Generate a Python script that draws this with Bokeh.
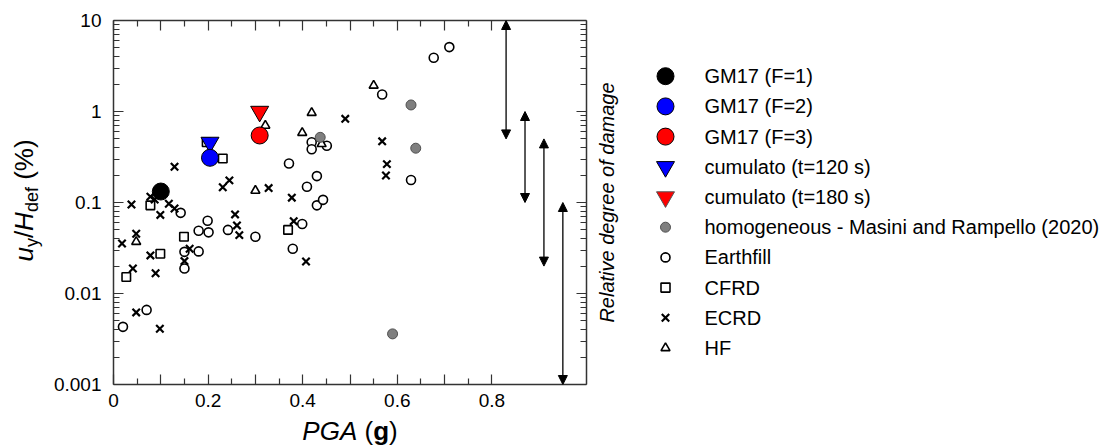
import math
from bokeh.plotting import figure
from bokeh.models import (Range1d, FixedTicker, LinearAxis, LogAxis, Arrow,
                          NormalHead, ColumnDataSource)
from bokeh.layouts import row, column
from bokeh.core.properties import value
from bokeh.embed import file_html
from bokeh.resources import INLINE

FONT = "Liberation Sans"
AX = "#333333"

# ---------------- data ----------------
earth_pga = [0.020, 0.070, 0.142, 0.150, 0.150, 0.180, 0.180, 0.199, 0.201, 0.242,
             0.300, 0.371, 0.379, 0.399, 0.409, 0.419, 0.419, 0.430, 0.430, 0.443,
             0.451, 0.568, 0.629, 0.677, 0.710]
earth_u = [0.0043, 0.0066, 0.077, 0.0287, 0.0188, 0.049, 0.029, 0.063, 0.047, 0.050,
           0.042, 0.268, 0.031, 0.058, 0.149, 0.46, 0.385, 0.195, 0.093, 0.107,
           0.42, 1.54, 0.177, 3.89, 5.1]

cfrd_pga = [0.027, 0.078, 0.099, 0.149, 0.197, 0.231, 0.369]
cfrd_u = [0.0152, 0.093, 0.0273, 0.042, 0.46, 0.305, 0.050]

ecrd_pga = [0.018, 0.038, 0.041, 0.048, 0.048, 0.078, 0.087, 0.078, 0.089, 0.098,
            0.099, 0.117, 0.129, 0.129, 0.150, 0.161, 0.231, 0.245, 0.257, 0.261,
            0.266, 0.328, 0.377, 0.381, 0.407, 0.490, 0.568, 0.578, 0.576]
ecrd_u = [0.0354, 0.095, 0.0188, 0.0453, 0.0062, 0.116, 0.108, 0.0262, 0.0167, 0.0041,
          0.073, 0.097, 0.086, 0.247, 0.0227, 0.031, 0.147, 0.175, 0.074, 0.056,
          0.0438, 0.144, 0.113, 0.0624, 0.0225, 0.83, 0.47, 0.264, 0.198]

hf_pga = [0.048, 0.300, 0.321, 0.399, 0.419, 0.440, 0.550]
hf_u = [0.037, 0.135, 0.70, 0.583, 0.967, 0.44, 1.93]

homo_pga = [0.437, 0.590, 0.629, 0.639]
homo_u = [0.52, 0.0036, 1.18, 0.395]

gm17_pga = [0.100, 0.204, 0.309]
gm17_u = [0.132, 0.31, 0.545]
gm17_colors = ["black", "blue", "red"]

cum_pga = [0.204, 0.309]
cum_u = [0.457, 1.0]
cum_colors = ["blue", "red"]

arrow_pga = [0.830, 0.870, 0.910, 0.950]
arrow_low = [0.5, 0.1, 0.02, 0.001]
arrow_high = [10.0, 1.0, 0.5, 0.1]

x_ticks = [0.0, 0.1, 0.2, 0.3, 0.4, 0.5, 0.6, 0.7, 0.8]
x_tick_labels = ["0", "", "0.2", "", "0.4", "", "0.6", "", "0.8"]
x_minor = [0.05, 0.15, 0.25, 0.35, 0.45, 0.55, 0.65, 0.75]
y_ticks = [0.001, 0.01, 0.1, 1.0, 10.0]
y_tick_labels = ["0.001", "0.01", "0.1", "1", "10"]
y_minor = [k * d for d in (0.001, 0.01, 0.1, 1.0) for k in range(2, 10)]

legend_labels = ["GM17 (F=1)", "GM17 (F=2)", "GM17 (F=3)", "cumulato (t=120 s)",
                 "cumulato (t=180 s)", "homogeneous - Masini and Rampello (2020)",
                 "Earthfill", "CFRD", "ECRD", "HF"]
legend_markers = ["circle", "circle", "circle", "inverted_triangle", "inverted_triangle",
                  "circle", "circle", "square", "x", "triangle"]
legend_fill = ["black", "blue", "red", "blue", "red", "#7f7f7f", "white", "white", "black", "white"]
legend_line = ["black", "black", "black", "black", "#555555", "#505050", "black", "black", "black", "black"]
legend_size = [17, 17, 17, 18, 18, 10, 9, 9, 10.5, 9]
legend_lw = [1, 1, 1, 1, 1, 1, 1.6, 1.6, 2.2, 1.6]

# ---------------- geometry ----------------
YL_W = 45                        # y-title strip
BL, BR, BT, BB = 68, 8, 20, 32   # borders of main plot
FW, FH = 473, 364                # frame size
P_W, P_H = BL + FW + BR, BT + FH + BB
XL_H = 29                        # x-title strip
TOT_H = P_H + XL_H
LEG_W = 520

# ---------------- main figure ----------------
p = figure(width=P_W, height=P_H, x_range=Range1d(0, 1),
           y_range=Range1d(0.001, 10), y_axis_type="log",
           output_backend="svg", toolbar_location=None,
           min_border_left=BL, min_border_right=BR, min_border_top=BT,
           min_border_bottom=BB)
p.xgrid.visible = False
p.ygrid.visible = False
p.outline_line_color = None

xt = FixedTicker(ticks=x_ticks, minor_ticks=x_minor)
yt = FixedTicker(ticks=y_ticks, minor_ticks=y_minor)


def style(ax):
    ax.axis_line_color = AX
    ax.axis_line_width = 1.5
    ax.major_tick_line_color = AX
    ax.minor_tick_line_color = AX
    ax.major_tick_line_width = 1.2
    ax.minor_tick_line_width = 1.2
    ax.major_tick_in = 10
    ax.major_tick_out = 0
    ax.minor_tick_in = 6
    ax.minor_tick_out = 0
    ax.major_label_text_font = FONT
    ax.major_label_text_font_size = "19px"
    ax.major_label_text_color = "black"


p.xaxis.ticker = xt
p.xaxis.major_label_overrides = dict(zip(x_ticks, x_tick_labels))
p.yaxis.ticker = yt
p.yaxis.major_label_overrides = dict(zip(y_ticks, y_tick_labels))
style(p.xaxis[0])
style(p.yaxis[0])
p.xaxis.major_label_standoff = 9
p.yaxis.major_label_standoff = 12

top = LinearAxis(ticker=xt, major_label_overrides={t: "" for t in x_ticks})
right = LogAxis(ticker=yt, major_label_overrides={t: "" for t in y_ticks})
for ax in (top, right):
    style(ax)
    ax.major_label_text_font_size = "0px"
    ax.major_label_standoff = 0
p.add_layout(top, "above")
p.add_layout(right, "right")

# arrows (relative degree of damage)
asrc = ColumnDataSource(dict(x=arrow_pga, lo=arrow_low, hi=arrow_high))
p.add_layout(Arrow(x_start="x", y_start="lo", x_end="x", y_end="hi", source=asrc,
                   line_color="black", line_width=1.3,
                   start=NormalHead(size=9, fill_color="black", line_color="black"),
                   end=NormalHead(size=9, fill_color="black", line_color="black")))

p.scatter(earth_pga, earth_u, marker="circle", size=9, fill_color="white",
          line_color="black", line_width=1.6)
p.scatter(cfrd_pga, cfrd_u, marker="square", size=8.5, fill_color="white",
          line_color="black", line_width=1.6)
p.scatter(ecrd_pga, ecrd_u, marker="x", size=10.5, line_color="black", line_width=2.2)
p.scatter(hf_pga, hf_u, marker="triangle", size=9, fill_color="white",
          line_color="black", line_width=1.6)
p.scatter(homo_pga, homo_u, marker="circle", size=10, fill_color="#7f7f7f",
          line_color="#505050", line_width=1)
p.scatter(cum_pga, cum_u, marker="inverted_triangle", size=18, fill_color=cum_colors,
          line_color="black", line_width=1)
p.scatter(gm17_pga, gm17_u, marker="circle", size=17, fill_color=gm17_colors,
          line_color="black", line_width=1)

# ---------------- axis titles (styled pieces) ----------------
W = {"u": 0.556, "y": 0.5, "/": 0.278, "H": 0.722, "d": 0.556, "e": 0.556, "f": 0.278,
     " ": 0.278, "(": 0.333, "%": 0.889, ")": 0.333, "P": 0.667, "G": 0.778, "A": 0.667,
     "g": 0.611}
MID = 0.35   # baseline lies this fraction of the font size below the 'middle' anchor


def tw(s, fs):
    return sum(W[c] for c in s) * fs


def strip(w, h, bl=0, br=0):
    f = figure(width=w, height=h, x_range=Range1d(0, w - bl - br), y_range=Range1d(h, 0),
               output_backend="svg", toolbar_location=None, min_border=0,
               min_border_left=bl, min_border_right=br,
               x_axis_location=None, y_axis_location=None, title=None)
    f.grid.visible = False
    f.outline_line_color = None
    return f


BIG, SUB = 26, 18
ylab = strip(YL_W, TOT_H)
BASE_Y = 33      # baseline of the rotated y title (strip coordinates)
# (text, font size, style, baseline shift, gap before)
ypieces = [("u", BIG, "italic", 0, 0), ("y", SUB, "normal", 5, 0), ("/", BIG, "normal", 0, 0),
           ("H", BIG, "italic", 0, 0), ("def", SUB, "normal", 5, 0),
           ("(%)", BIG, "normal", 0, tw(" ", BIG))]
total = sum(tw(s, fs) + g for s, fs, _, _, g in ypieces)
pos = 200 + total / 2          # bottom end of the rotated title
for s, fs, st, dx, g in ypieces:
    pos -= g
    ylab.text(x=[BASE_Y + dx - MID * fs], y=[pos], text=[s], angle=math.pi / 2,
              text_font=value(FONT), text_font_size=f"{fs}px", text_font_style=st,
              text_align="left", text_baseline="middle", text_color="black")
    pos -= tw(s, fs)

xlab = strip(P_W, XL_H, BL, BR)
xpieces = [("PGA", BIG, "italic", 0), ("(", BIG, "normal", tw(" ", BIG)),
           ("g", BIG, "bold", 0), (")", BIG, "normal", 0)]
total = sum(tw(s, fs) + g for s, fs, _, g in xpieces)
pos = FW / 2 - total / 2
for s, fs, st, g in xpieces:
    pos += g
    xlab.text(x=[pos], y=[14.5], text=[s], text_font=value(FONT), text_font_size=f"{fs}px",
              text_font_style=st, text_align="left", text_baseline="middle",
              text_color="black")
    pos += tw(s, fs)

# ---------------- legend panel ----------------
leg = strip(LEG_W, TOT_H)
rows_y = [75.7 + 30.2 * i for i in range(len(legend_labels))]
lsrc = ColumnDataSource(dict(x=[71] * len(rows_y), y=rows_y, marker=legend_markers,
                             size=legend_size, fill=legend_fill, line=legend_line,
                             lw=legend_lw, tx=[110] * len(rows_y), label=legend_labels))
leg.scatter(x="x", y="y", marker="marker", size="size", fill_color="fill",
            line_color="line", line_width="lw", source=lsrc)
leg.text(x="tx", y="y", text="label", source=lsrc, text_font=value(FONT),
         text_font_size="20px", text_baseline="middle", text_align="left",
         text_color="black")
leg.text(x=[12], y=[202], text=["Relative degree of damage"], angle=math.pi / 2,
         text_font=value(FONT), text_font_size="20px", text_font_style="italic",
         text_align="center", text_baseline="middle", text_color="black")

layout = row(ylab, column(p, xlab), leg)
open("out.html", "w").write(file_html(layout, INLINE))
